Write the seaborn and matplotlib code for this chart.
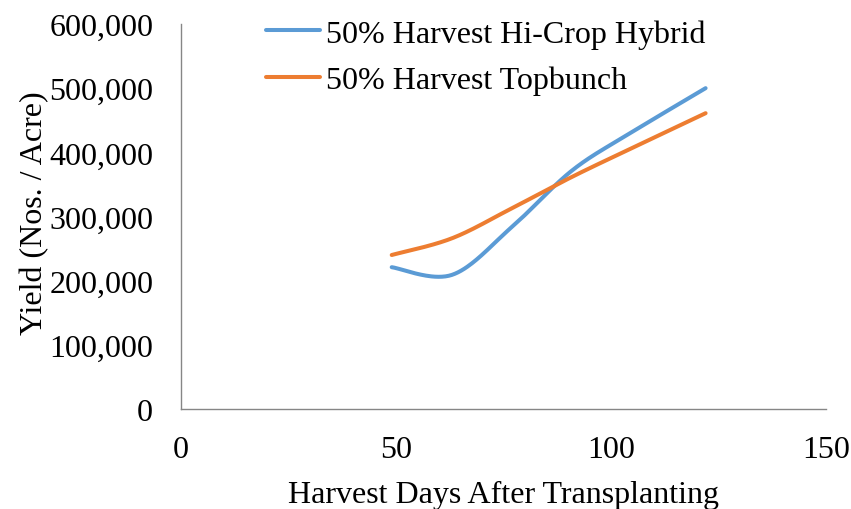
import numpy as np
import pandas as pd
import matplotlib
matplotlib.use("Agg")
import matplotlib.pyplot as plt
import seaborn as sns
from matplotlib.ticker import FuncFormatter

# ---- data ----
days = [49, 63, 77, 91, 105, 122]
hicrop_hybrid = [221000, 209000, 284000, 372000, 432000, 500000]
topbunch = [240000, 266000, 313000, 362000, 407000, 461000]
series_names = ["50% Harvest Hi-Crop Hybrid", "50% Harvest Topbunch"]
x_ticks = [0, 50, 100, 150]
y_ticks = [0, 100000, 200000, 300000, 400000, 500000, 600000]


def smooth(xs, ys, n=40):
    """Excel-style smoothed line: cubic Bezier segments with Catmull-Rom control points."""
    P = np.column_stack([xs, ys]).astype(float)
    P = np.vstack([P[0], P, P[-1]])
    out = []
    t = np.linspace(0, 1, n)[:, None]
    for i in range(1, len(P) - 2):
        p0, p3 = P[i], P[i + 1]
        c1 = p0 + (P[i + 1] - P[i - 1]) / 6.0
        c2 = p3 - (P[i + 2] - P[i]) / 6.0
        seg = ((1 - t) ** 3) * p0 + 3 * ((1 - t) ** 2) * t * c1 + 3 * (1 - t) * t ** 2 * c2 + t ** 3 * p3
        out.append(seg if i == 1 else seg[1:])
    s = np.vstack(out)
    return s[:, 0], s[:, 1]


frames = []
for name, vals in zip(series_names, [hicrop_hybrid, topbunch]):
    sx, sy = smooth(days, vals)
    frames.append(pd.DataFrame({"x": sx, "y": sy, "series": name}))
df = pd.concat(frames, ignore_index=True)

sns.set_theme(style="white")
plt.rcParams["font.family"] = ["Liberation Serif", "DejaVu Serif"]
plt.rcParams["text.color"] = "black"
plt.rcParams["axes.labelcolor"] = "black"

FS = 23

fig = plt.figure(figsize=(8.51, 5.10), dpi=100)
ax = fig.add_axes([181 / 851, 1 - 410 / 510, (826 - 181) / 851, (410 - 25) / 510])

sns.lineplot(data=df, x="x", y="y", hue="series", estimator=None, sort=False,
             palette=["#5B9BD5", "#ED7D31"], linewidth=2.9, ax=ax)

ax.set_xlim(0, 150)
ax.set_ylim(0, 600000)
ax.set_xticks(x_ticks)
ax.set_yticks(y_ticks)
ax.yaxis.set_major_formatter(FuncFormatter(lambda v, p: f"{int(v):,}"))
ax.tick_params(axis="both", length=0, labelsize=FS, colors="black")
ax.tick_params(axis="y", pad=20)
ax.tick_params(axis="x", pad=19)

for side in ["top", "right"]:
    ax.spines[side].set_visible(False)
for side in ["left", "bottom"]:
    ax.spines[side].set_color("#868686")
    ax.spines[side].set_linewidth(1.0)

ax.set_xlabel("Harvest Days After Transplanting", fontsize=FS, va="center", color="black")
ax.xaxis.set_label_coords(0.5, -0.222)
ax.set_ylabel("Yield (Nos. / Acre)", fontsize=FS, va="center", color="black")
ax.yaxis.set_label_coords(-0.227, 0.51)

leg = ax.legend(loc="upper left", bbox_to_anchor=(266 / 851, 1 - 20 / 510),
                bbox_transform=fig.transFigure, frameon=False, fontsize=FS,
                handlelength=1.7, handletextpad=0.17, labelspacing=0.54,
                borderpad=0, borderaxespad=0, labelcolor="black")
for line in leg.get_lines():
    line.set_linewidth(2.9)

fig.savefig("out.png", dpi=100)
